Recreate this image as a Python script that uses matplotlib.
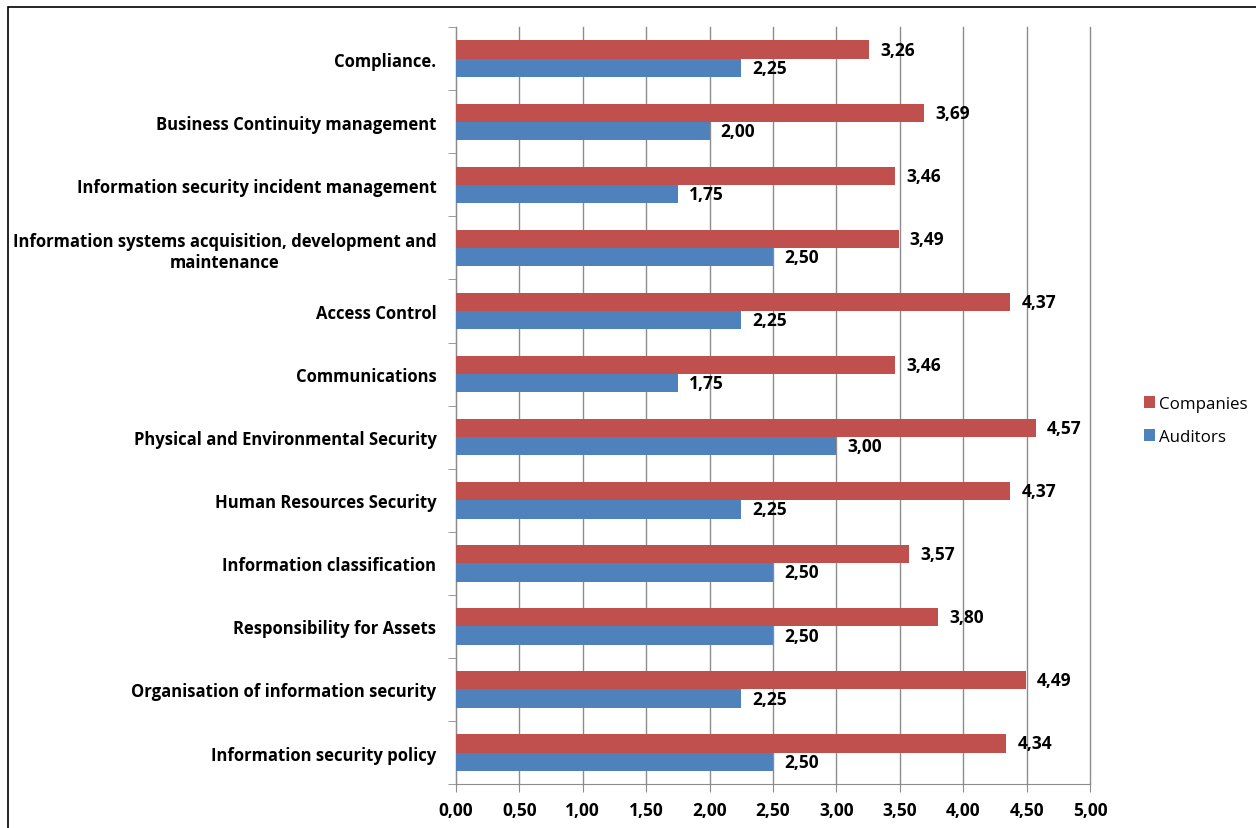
import numpy as np
import matplotlib.pyplot as plt
from matplotlib.patches import Rectangle

categories = [
    "Information security policy",
    "Organisation of information security",
    "Responsibility for Assets",
    "Information classification",
    "Human Resources Security",
    "Physical and Environmental Security",
    "Communications",
    "Access Control",
    "Information systems acquisition, development and\nmaintenance",
    "Information security incident management",
    "Business Continuity management",
    "Compliance.",
]
companies = [4.34, 4.49, 3.80, 3.57, 4.37, 4.57, 3.46, 4.37, 3.49, 3.46, 3.69, 3.26]
auditors = [2.50, 2.25, 2.50, 2.50, 2.25, 3.00, 1.75, 2.25, 2.50, 1.75, 2.00, 2.25]

plt.rcParams['font.family'] = ['Open Sans', 'DejaVu Sans']

fig = plt.figure(figsize=(12.56, 8.29), dpi=100)
ax = fig.add_axes([0.363, 0.053, 0.505, 0.913])

red = "#c0504d"
blue = "#4f81bd"
h = 0.29
y = np.arange(len(categories))
b1 = ax.barh(y + h / 2, companies, height=h, color=red, label="Companies", zorder=3)
b2 = ax.barh(y - h / 2, auditors, height=h, color=blue, label="Auditors", zorder=3)

fmt = lambda v: f"{v:.2f}".replace(".", ",")
for bars, vals in ((b1, companies), (b2, auditors)):
    for bar, v in zip(bars, vals):
        ax.annotate(fmt(v), (v, bar.get_y() + bar.get_height() / 2),
                    xytext=(8, 0), textcoords="offset points",
                    va="center", ha="left", fontsize=12.5, fontweight="bold")

ax.set_xlim(0, 5)
ax.set_ylim(-0.5, len(categories) - 0.5)
xt = np.arange(0, 5.01, 0.5)
ax.set_xticks(xt)
ax.set_xticklabels([fmt(v) for v in xt], fontsize=12.5, fontweight="bold")
ax.grid(axis="x", color="#8c8c8c", linewidth=1, zorder=0)
for gl in ax.get_xgridlines():
    gl.set_clip_on(False)

ax.set_yticks(y)
ax.set_yticklabels(categories, fontsize=12, fontweight="bold", ha="right",
                   multialignment="center")
ax.tick_params(axis="y", length=0, pad=14)
ax.set_yticks(np.arange(-0.5, len(categories)), minor=True)
ax.tick_params(axis="y", which="minor", length=6, color="#8c8c8c")
ax.tick_params(axis="x", length=6, color="#8c8c8c", pad=6)

for s in ("top", "right"):
    ax.spines[s].set_visible(False)
for s in ("left", "bottom"):
    ax.spines[s].set_color("#8c8c8c")

handles = [b1, b2]
ax.legend(handles, ["Companies", "Auditors"], loc="center left",
          bbox_to_anchor=(1.06, 0.48), frameon=False, fontsize=12.2,
          handlelength=0.7, handleheight=0.7, handletextpad=0.2, labelspacing=1.0)

fig.patches.append(Rectangle((8 / 1256, -0.1), 1.2, 1 - 8 / 829 + 0.1,
                             transform=fig.transFigure, fill=False,
                             edgecolor="black", linewidth=1.2))

fig.savefig("out.png", dpi=100)
